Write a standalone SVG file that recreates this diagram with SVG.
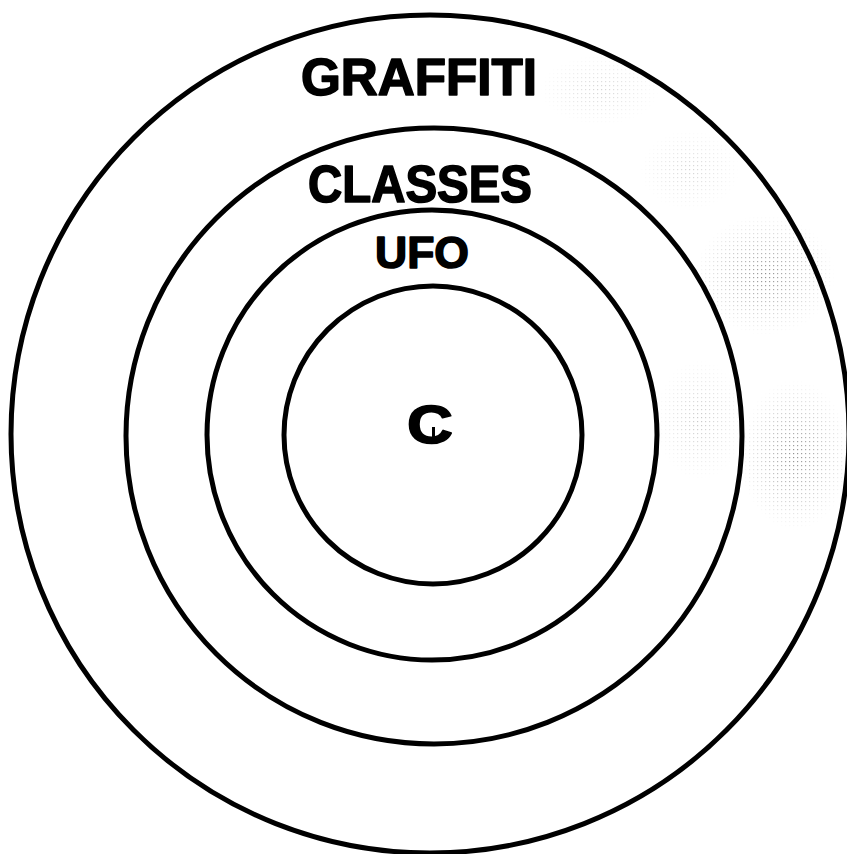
<svg xmlns="http://www.w3.org/2000/svg" width="847" height="854" viewBox="0 0 847 854">
  <style>
    .ring { fill: none; stroke: #000; stroke-width: 5; }
    .lbl { font-family: "Liberation Sans", Arial, Helvetica, sans-serif; font-weight: bold; fill: #000; stroke: #000; stroke-width: 1.6; stroke-linejoin: round; text-anchor: middle; }
  </style>
  <defs>
    <pattern id="dots" width="4" height="4" patternUnits="userSpaceOnUse">
      <rect x="1" y="1" width="1.2" height="1.2" fill="#444"/>
    </pattern>
    <radialGradient id="fade">
      <stop offset="0" stop-color="#fff" stop-opacity="1"/>
      <stop offset="1" stop-color="#fff" stop-opacity="0"/>
    </radialGradient>
    <mask id="speckMask">
      <ellipse cx="765" cy="275" rx="70" ry="60" fill="url(#fade)"/>
      <ellipse cx="795" cy="455" rx="55" ry="75" fill="url(#fade)"/>
      <ellipse cx="700" cy="420" rx="45" ry="60" fill="url(#fade)" opacity="0.5"/>
      <ellipse cx="600" cy="90" rx="60" ry="35" fill="url(#fade)" opacity="0.4"/>
      <ellipse cx="690" cy="170" rx="50" ry="40" fill="url(#fade)" opacity="0.4"/>
    </mask>
  </defs>
  <rect width="847" height="854" fill="#fff"/>
  <g id="speckle" mask="url(#speckMask)">
    <rect x="520" y="40" width="327" height="560" fill="url(#dots)" opacity="0.6"/>
  </g>

  <g id="graffiti">
    <circle class="ring" cx="430" cy="434" r="419"/>
    <text class="lbl" x="419" y="95" font-size="51" textLength="236" lengthAdjust="spacingAndGlyphs">GRAFFITI</text>
  </g>
  <g id="classes">
    <circle class="ring" cx="434" cy="436" r="308"/>
    <text class="lbl" x="420" y="202" font-size="51" textLength="224" lengthAdjust="spacingAndGlyphs">CLASSES</text>
  </g>
  <g id="ufo">
    <circle class="ring" cx="432" cy="435" r="225"/>
    <text class="lbl" x="422" y="268" font-size="45" textLength="94" lengthAdjust="spacingAndGlyphs">UFO</text>
  </g>
  <g id="c">
    <circle class="ring" cx="433" cy="435" r="149"/>
    <text class="lbl" x="0" y="0" font-size="53" stroke-width="3" transform="translate(430 443) scale(1.2 1)">C</text>
    <rect x="432" y="427" width="3" height="15" fill="#000"/>
  </g>
</svg>
